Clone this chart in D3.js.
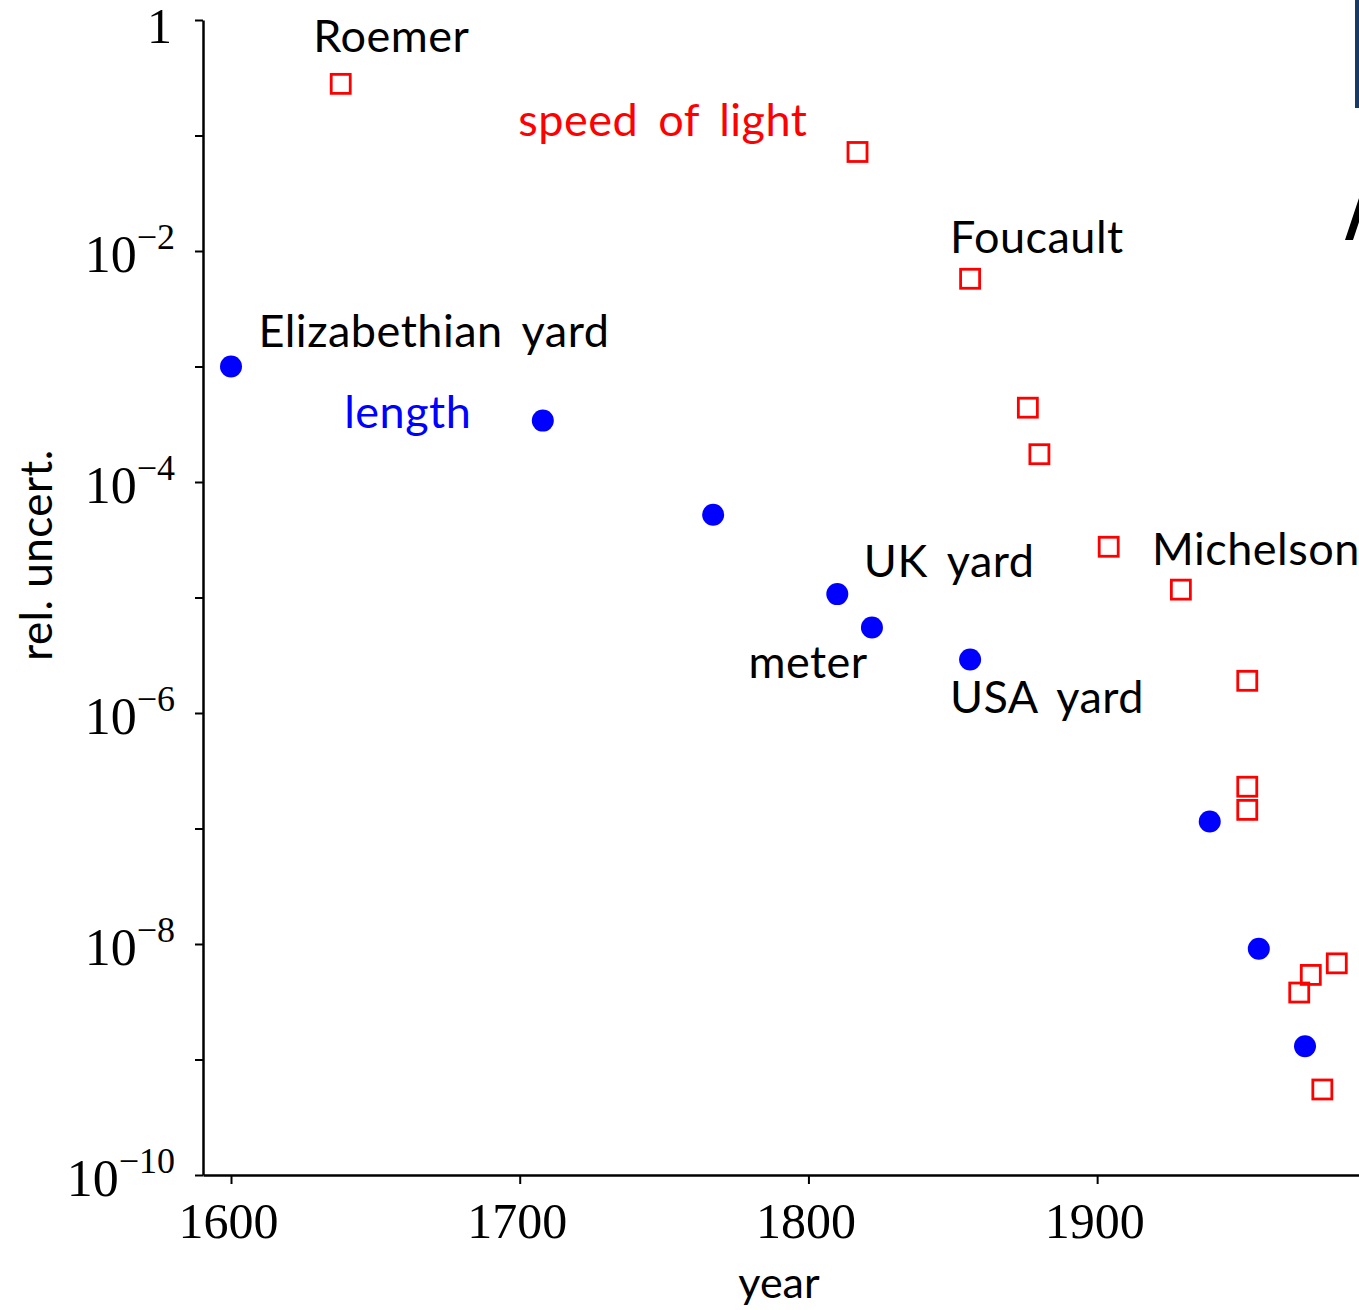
<!DOCTYPE html>
<html>
<head>
<meta charset="utf-8">
<script src="https://cdn.jsdelivr.net/npm/d3@7"></script>
<style>
  body { margin: 0; background: #fff; }
  svg { display: block; }
</style>
</head>
<body>
<svg id="chart" width="1359" height="1310"></svg>
<script>
// length standards (blue dots)
var lengthYears = [1600, 1708, 1767, 1810, 1822, 1856, 1939, 1956, 1972];
var lengthUnc = [1.0e-3, 3.4e-4, 5.2e-5, 1.07e-5, 5.5e-6, 2.9e-6, 1.15e-7, 9.1e-9, 1.3e-9];

// speed of light measurements (red squares)
var lightYears = [1638, 1817, 1856, 1876, 1880, 1904, 1929, 1952, 1952, 1952, 1970, 1974, 1983, 1978];
var lightUnc = [0.28, 0.072, 5.75e-3, 4.4e-4, 1.74e-4, 2.75e-5, 1.17e-5, 1.9e-6, 2.3e-7, 1.45e-7, 3.8e-9, 5.4e-9, 6.8e-9, 5.5e-10];

var yearTicks = [1600, 1700, 1800, 1900];
var decadeExps = [0, -1, -2, -3, -4, -5, -6, -7, -8, -9, -10];

// annotations: text, year, uncertainty at baseline, colour
var notes = [
  {text: "Roemer", x: 1628.5, y: 0.528, color: "#000"},
  {text: "speed of light", x: 1699.5, y: 0.099, color: "#ff0000"},
  {text: "Foucault", x: 1849, y: 9.6e-3, color: "#000"},
  {text: "Elizabethian yard", x: 1609.5, y: 1.48e-3, color: "#000"},
  {text: "length", x: 1639.2, y: 2.94e-4, color: "#0000ff"},
  {text: "UK yard", x: 1819.2, y: 1.5e-5, color: "#000"},
  {text: "meter", x: 1779.2, y: 2.0e-6, color: "#000"},
  {text: "USA yard", x: 1849, y: 1.0e-6, color: "#000"},
  {text: "Michelson", x: 1919, y: 1.91e-5, color: "#000"}
];

var svg = d3.select("#chart");
var sansFont = "Lato, 'Open Sans', sans-serif";
var serifFont = "'Liberation Serif', 'DejaVu Serif', serif";

var x = d3.scaleLinear().domain([1590.3, 1990.7]).range([203, 1359]);
var y = d3.scaleLog().domain([1, 1e-10]).range([20, 1175]);

// decorations cut off at the right edge
svg.append("rect").attr("x", 1355).attr("y", 0).attr("width", 4).attr("height", 108)
  .attr("fill", "#1a3a66");
svg.append("polygon").attr("points", "1345,240 1353,240 1359,222 1359,198")
  .attr("fill", "#000");

// axes
var xAxis = d3.axisBottom(x).tickValues(yearTicks).tickSize(9).tickSizeOuter(0)
  .tickFormat(d3.format("d"));
var gx = svg.append("g").attr("transform", "translate(0,1175)").call(xAxis);
gx.selectAll(".tick text")
  .attr("font-family", serifFont).attr("font-size", 50).attr("fill", "#000")
  .attr("x", -3).attr("dy", "1.02em");

var yAxis = d3.axisLeft(y).tickValues(decadeExps.map(function(e) { return Math.pow(10, e); }))
  .tickSize(8).tickSizeOuter(0).tickFormat("");
var gy = svg.append("g").attr("transform", "translate(203,0)").call(yAxis);

[gx, gy].forEach(function(g) {
  g.select(".domain").attr("stroke", "#000").attr("stroke-width", 2.5);
  g.selectAll(".tick line").attr("stroke", "#000").attr("stroke-width", 2);
});

// y tick labels as 10^n with superscripts
gy.selectAll(".tick").each(function(d) {
  var e = Math.round(Math.log10(d));
  if (e % 2 !== 0) return;
  var t = d3.select(this).append("text")
    .attr("x", -28).attr("y", 20)
    .attr("text-anchor", "end")
    .attr("font-family", serifFont).attr("fill", "#000");
  if (e === 0) {
    t.attr("x", -31).attr("y", 22).attr("font-size", 50).text("1");
  } else {
    t.append("tspan").attr("font-size", 52).text("10");
    t.append("tspan").attr("font-size", 36).attr("dy", -23).text("\u2212" + (-e));
  }
});

// axis titles
svg.append("text").attr("x", 779).attr("y", 1298).attr("text-anchor", "middle")
  .attr("font-family", sansFont).attr("font-size", 43).attr("fill", "#000")
  .text("year");
svg.append("text").attr("transform", "translate(52,555) rotate(-90)")
  .attr("text-anchor", "middle")
  .attr("font-family", sansFont).attr("font-size", 44).attr("fill", "#000")
  .attr("letter-spacing", 0.5)
  .text("rel. uncert.");

// data
var lengthData = lengthYears.map(function(yr, i) { return {x: yr, y: lengthUnc[i]}; });
var lightData = lightYears.map(function(yr, i) { return {x: yr, y: lightUnc[i]}; });

svg.selectAll(".sq").data(lightData).enter().append("rect")
  .attr("class", "sq")
  .attr("x", function(d) { return x(d.x) - 9.5; })
  .attr("y", function(d) { return y(d.y) - 9.5; })
  .attr("width", 19).attr("height", 19)
  .attr("fill", "none").attr("stroke", "#ff0000").attr("stroke-width", 2.8);

svg.selectAll(".dot").data(lengthData).enter().append("circle")
  .attr("class", "dot")
  .attr("cx", function(d) { return x(d.x); })
  .attr("cy", function(d) { return y(d.y); })
  .attr("r", 11)
  .attr("fill", "#0000ff");

// annotations
svg.selectAll(".note").data(notes).enter().append("text")
  .attr("class", "note")
  .attr("x", function(d) { return x(d.x); })
  .attr("y", function(d) { return y(d.y); })
  .attr("font-family", sansFont).attr("font-size", 45)
  .attr("letter-spacing", 0.5).attr("word-spacing", 8)
  .attr("fill", function(d) { return d.color; })
  .text(function(d) { return d.text; });
</script>
</body>
</html>
